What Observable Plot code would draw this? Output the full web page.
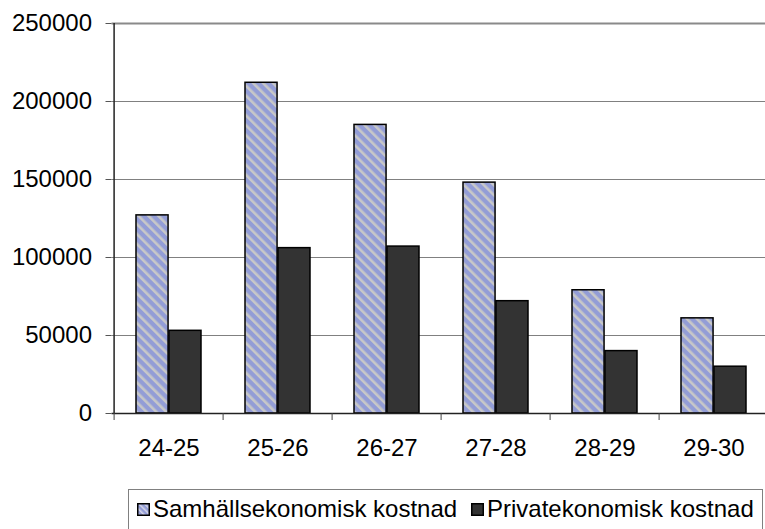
<!DOCTYPE html>
<html>
<head>
<meta charset="utf-8">
<script src="https://cdn.jsdelivr.net/npm/d3@7"></script>
<script src="https://cdn.jsdelivr.net/npm/@observablehq/plot@0.6"></script>
<style>
html, body { margin: 0; padding: 0; background: #fff; width: 765px; height: 529px; overflow: hidden; }
body { position: relative; font-family: "Liberation Sans", Arial, sans-serif; }
#chart { position: absolute; left: 0; top: 0; }
#legend { position: absolute; left: 128px; top: 489px; width: 635px; height: 45px; border: 1px solid #808080; border-bottom: none; box-sizing: border-box; font-size: 24px; color: #000; }
.item { position: absolute; top: 5px; display: flex; align-items: center; white-space: nowrap; }
.item svg { margin-right: 3px; }
</style>
</head>
<body>
<div id="chart"></div>
<div id="legend"></div>
<script>
const categories = ["24-25", "25-26", "26-27", "27-28", "28-29", "29-30"];
const samhallsekonomisk = [127000, 212000, 185000, 148000, 79000, 61000];
const privatekonomisk = [53000, 106000, 107000, 72000, 40000, 30000];
const seriesNames = ["Samhällsekonomisk kostnad", "Privatekonomisk kostnad"];
const yTicks = [0, 50000, 100000, 150000, 200000, 250000];

const blue = "#939dd6";
const stripe = "#c8c8c8";
const dark = "#333333";

const x0 = 111.5, x1 = 770.3;
const step = (x1 - x0) / categories.length;
const half = step * 0.6 / 2;

const rowsA = categories.map((c, i) => ({cat: c, value: samhallsekonomisk[i]}));
const rowsB = categories.map((c, i) => ({cat: c, value: privatekonomisk[i]}));

const svg = Plot.plot({
  width: 765,
  height: 473,
  marginLeft: x0,
  marginRight: 0,
  marginTop: 23,
  marginBottom: 60,
  style: {fontFamily: "'Liberation Sans', Arial, sans-serif", fontSize: "24px", color: "#000", background: "#fff"},
  x: {domain: categories, range: [x0, x1], paddingInner: 0.4, paddingOuter: 0.2, label: null},
  y: {domain: [0, 250000], label: null},
  marks: [
    Plot.ruleY(yTicks.filter(d => d > 0 && d < 250000), {stroke: "#808080", strokeWidth: 1.2}),
    Plot.ruleY([250000], {stroke: "#8a8a8a", strokeWidth: 2}),
    Plot.barY(rowsA, {x: "cat", y: "value", fill: "url(#stripes)", stroke: "#000", strokeWidth: 1.5, insetRight: half}),
    Plot.barY(rowsB, {x: "cat", y: "value", fill: dark, stroke: "#000", strokeWidth: 1.5, insetLeft: half}),
    Plot.ruleY([0], {stroke: "#222", strokeWidth: 1.5}),
    Plot.ruleX([categories[0]], {x: d => d, dx: -step / 2, y1: 0, y2: 250000, stroke: "#222", strokeWidth: 1.5}),
    Plot.axisX({ticks: categories, tickSize: 7, tickFormat: () => "", dx: -step / 2, stroke: "#444", label: null}),
    Plot.axisX({ticks: categories, tickSize: 0, tickPadding: 25, fill: "#000", label: null}),
    Plot.axisY({ticks: yTicks, tickSize: 6, tickPadding: 14, tickFormat: d => String(d), stroke: "#555", fill: "#000", label: null})
  ]
});

const defs = d3.select(svg).insert("defs", ":first-child");
const pat = defs.append("pattern").attr("id", "stripes").attr("patternUnits", "userSpaceOnUse")
  .attr("width", 7).attr("height", 7).attr("patternTransform", "rotate(-45)");
pat.append("rect").attr("width", 7).attr("height", 7).attr("fill", blue);
pat.append("rect").attr("x", 0).attr("width", 2.6).attr("height", 7).attr("fill", stripe);

document.getElementById("chart").appendChild(svg);

// legend
const legend = d3.select("#legend");
const items = [
  {name: seriesNames[0], fill: "url(#lstripes)", left: 8},
  {name: seriesNames[1], fill: dark, left: 342}
];
items.forEach((it, i) => {
  const div = legend.append("div").attr("class", "item").style("left", it.left + "px");
  const s = div.append("svg").attr("width", 13).attr("height", 13);
  if (i === 0) {
    const p = s.append("defs").append("pattern").attr("id", "lstripes").attr("patternUnits", "userSpaceOnUse")
      .attr("width", 4).attr("height", 4).attr("patternTransform", "rotate(-45)");
    p.append("rect").attr("width", 4).attr("height", 4).attr("fill", blue);
    p.append("rect").attr("width", 1.5).attr("height", 4).attr("fill", "#d8d8e8");
  }
  s.append("rect").attr("x", 0.75).attr("y", 0.75).attr("width", 11.5).attr("height", 11.5)
    .attr("fill", it.fill).attr("stroke", "#000").attr("stroke-width", 1.5);
  div.append("span").text(it.name);
});
</script>
</body>
</html>
